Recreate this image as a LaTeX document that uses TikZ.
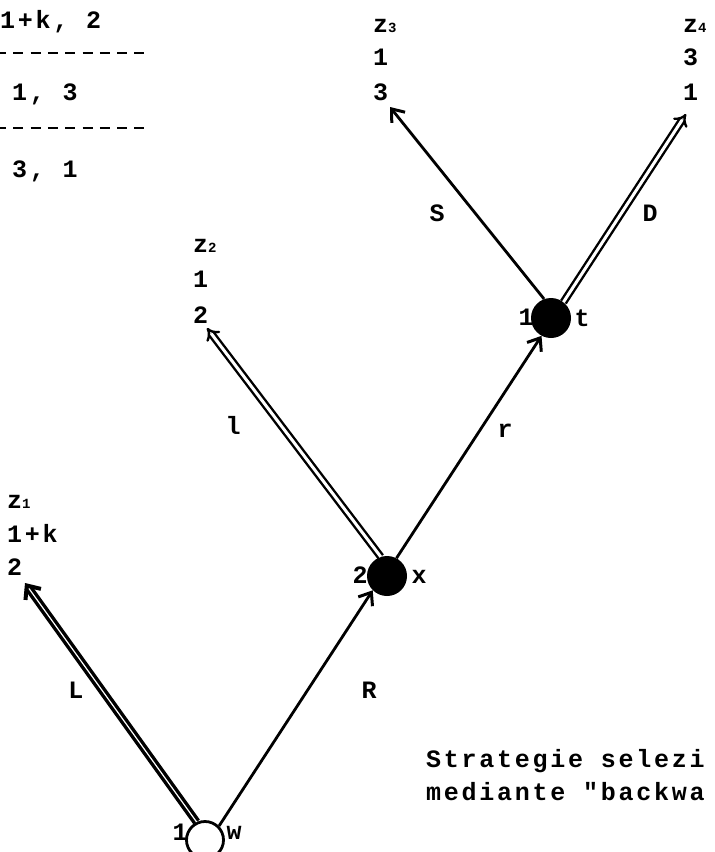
\documentclass[tikz,border=0pt]{standalone}
\usepackage{fontspec}
\setmainfont{Liberation Mono}[LetterSpace=11, Ligatures=TeXOff]
\usetikzlibrary{arrows.meta}
\newcommand{\zsub}[1]{{\fontsize{14}{14}\selectfont\bfseries #1}}
\begin{document}
\begin{tikzpicture}[x=1pt,y=-1pt,
  txt/.style={font=\fontsize{25}{25}\selectfont\bfseries, inner sep=0pt, anchor=base west},
  lbl/.style={font=\fontsize{25}{25}\selectfont\bfseries, inner sep=0pt},
  sgl/.style={line width=2.8pt, -{Straight Barb[length=11pt,width=17pt,line width=3pt]}},
  dbl/.style={line width=2.4pt, double, double distance=3pt, -{Implies}},
  heavy/.style={line width=3.4pt, double, double distance=1.2pt, -{Straight Barb[length=11pt,width=19pt,line width=4pt]}},
  dashline/.style={line width=2.8pt, dash pattern=on 10pt off 7.3pt},
  opennode/.style={circle, draw, line width=2.8pt, minimum size=37pt, inner sep=0pt},
  fullnode/.style={circle, fill=black, minimum size=40pt, inner sep=0pt}
]
\useasboundingbox (0,0) rectangle (715,852);

% table top-left
\node[txt] (r1) at (0,28) {1+k, 2};
\coordinate (d1a) at (-4,53);
\coordinate (d1b) at (150,53);
\draw[dashline] (d1a) -- (d1b);
\node[txt] (r2) at (12,100) {1, 3};
\coordinate (d2a) at (-4,128);
\coordinate (d2b) at (150,128);
\draw[dashline] (d2a) -- (d2b);
\node[txt] (r3) at (12,177) {3, 1};

% decision nodes
\node[opennode] (w) at (205,840) {};
\node[fullnode] (x) at (387,576) {};
\node[fullnode] (t) at (551,318) {};

\node[lbl] (wl) at (180,832) {1};
\node[lbl] (wr) at (234,833) {w};
\node[lbl] (xl) at (360,575) {2};
\node[lbl] (xr) at (419,577) {x};
\node[lbl] (tl) at (526,317) {1};
\node[lbl] (tr) at (582,318) {t};

% leaves
\node[txt] (z1a) at (7,508) {z\zsub{1}};
\node[txt] (z1b) at (7,542) {1+k};
\node[txt] (z1c) at (7,575) {2};
\node[txt] (z2a) at (193,252) {z\zsub{2}};
\node[txt] (z2b) at (193,287) {1};
\node[txt] (z2c) at (193,323) {2};
\node[txt] (z3a) at (373,32) {z\zsub{3}};
\node[txt] (z3b) at (373,65) {1};
\node[txt] (z3c) at (373,100) {3};
\node[txt] (z4a) at (683,32) {z\zsub{4}};
\node[txt] (z4b) at (683,65) {3};
\node[txt] (z4c) at (683,100) {1};

\coordinate (z1tip) at (25,583);
\coordinate (z2tip) at (207,328);
\coordinate (z3tip) at (390,107);
\coordinate (z4tip) at (686,114);

% edges
\draw[heavy] (w.115) -- (z1tip);
\draw[sgl] (w.45) -- (x.225);
\draw[dbl] (x.108) -- (z2tip);
\draw[sgl] (x.62) -- (t.242);
\draw[sgl] (t.110) -- (z3tip);
\draw[dbl] (t.52) -- (z4tip);

% edge labels
\node[lbl] (eL) at (76,690) {L};
\node[lbl] (eR) at (369,690) {R};
\node[lbl] (el) at (233,425) {l};
\node[lbl] (er) at (505,431) {r};
\node[lbl] (eS) at (437,213) {S};
\node[lbl] (eD) at (650,213) {D};

% caption
\node[txt] (c1) at (426,767) {Strategie selezi};
\node[txt] (c2) at (426,800) {mediante "backwa};
\end{tikzpicture}
\end{document}
